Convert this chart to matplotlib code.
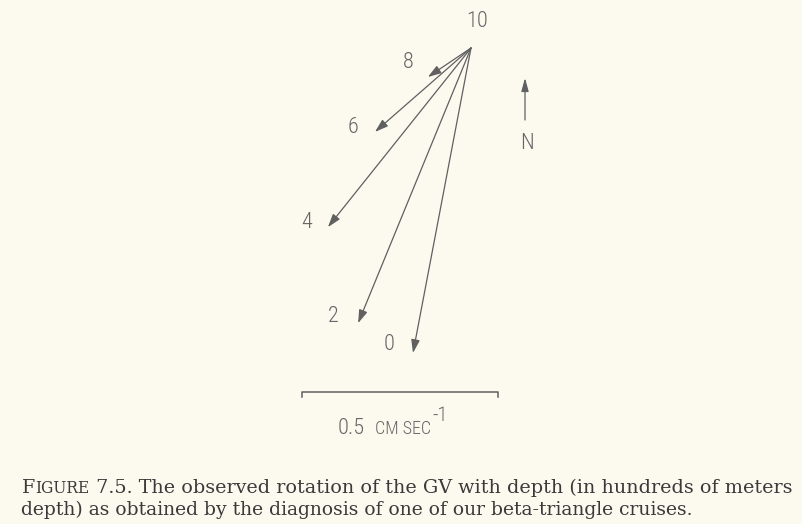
import matplotlib
matplotlib.use("Agg")
import matplotlib.pyplot as plt
from matplotlib import font_manager
from matplotlib.patches import FancyArrowPatch

# Geostrophic velocity at each depth (hundreds of metres), relative to 1000 m, in cm/s
depths = ["8", "6", "4", "2", "0"]
u_east = [-0.110, -0.245, -0.365, -0.288, -0.148]
v_north = [-0.074, -0.214, -0.457, -0.702, -0.778]
ref_label = "10"
scale_length = 0.5
scale_number = "0.5"
scale_units = "CM SEC"
scale_power = "-1"
caption_head = ("F", "IGURE")
caption_line1 = " 7.5. The observed rotation of the GV with depth (in hundreds of meters"
caption_line2 = "depth) as obtained by the diagnosis of one of our beta-triangle cruises."

BG = "#fcf9ef"
INK = "#606060"
TXT = "#666666"

W, H, DPI = 8.02, 5.24, 100
fig = plt.figure(figsize=(W, H), dpi=DPI, facecolor=BG)
ax = fig.add_axes([0, 0, 1, 1])
ax.set_facecolor(BG)
ppu = 392.0  # pixels per cm/s
ox, oy = 471.0, 48.0
ax.set_xlim(-ox / ppu, (W * DPI - ox) / ppu)
ax.set_ylim(-(H * DPI - oy) / ppu, oy / ppu)
ax.set_aspect("equal")
ax.axis("off")

# Narrow lettering for the diagram labels
installed = {f.name for f in font_manager.fontManager.ttflist}
narrow = None
for cand in ["Liberation Sans Narrow", "DejaVu Sans Condensed", "Roboto Condensed"]:
    if cand in installed:
        narrow = cand
        break
if narrow is None:
    label_font = dict(family="DejaVu Sans", color=TXT, fontsize=13)
    small_caps = 10.5
else:
    label_font = dict(family=narrow, color=TXT, fontsize=16, fontweight="light")
    small_caps = 13

# Velocity vectors from the common origin
offsets = [(-20, 15), (-22, 4), (-21, 5), (-25, 7), (-24, 8)]
for lab, u, v, off in zip(depths, u_east, v_north, offsets):
    arr = FancyArrowPatch((0, 0), (u, v), arrowstyle="-|>,head_length=8,head_width=2.6",
                          mutation_scale=1, color=INK, lw=0.9, shrinkA=0, shrinkB=0)
    ax.add_patch(arr)
    ax.annotate(lab, (u, v), xytext=off, textcoords="offset pixels",
                ha="center", va="center", **label_font)

ax.annotate(ref_label, (0, 0), xytext=(6, 27), textcoords="offset pixels",
            ha="center", va="center", **label_font)

# North arrow
nx = 54 / ppu
ax.add_patch(FancyArrowPatch((nx, -72 / ppu), (nx, -30 / ppu),
                             arrowstyle="-|>,head_length=8,head_width=2.2",
                             mutation_scale=1, color=INK, lw=0.9,
                             shrinkA=0, shrinkB=0))
ax.text(nx + 2 / ppu, -95 / ppu, "N", ha="center", va="center", **label_font)

# Scale bar
sx0, sy = -169 / ppu, -344 / ppu
tick = 5 / ppu
ax.plot([sx0, sx0, sx0 + scale_length, sx0 + scale_length],
        [sy - tick, sy, sy, sy - tick], color=INK, lw=1.1)


def px(x):
    return x / (W * DPI)


def py(y):
    return 1 - y / (H * DPI)


def after(t, gap=0):
    fig.canvas.draw()
    return px(t.get_window_extent().x1 + gap)


base = py(434)
t = fig.text(px(338), base, scale_number, va="baseline", ha="left", **label_font)
lf_small = dict(label_font, fontsize=small_caps)
t = fig.text(after(t, 10), base, scale_units, va="baseline", ha="left", **lf_small)
lf_sup = dict(label_font, fontsize=label_font["fontsize"] - 1)
fig.text(after(t, 1), py(421), scale_power, va="baseline", ha="left", **lf_sup)

# Caption
cap_font = dict(family="DejaVu Serif", color="#3a3a3a", va="baseline")
y1 = py(493)
y2 = py(515)
t = fig.text(px(22), y1, caption_head[0], fontsize=13.8, **cap_font)
t = fig.text(after(t), y1, caption_head[1], fontsize=11.2, **cap_font)
fig.text(after(t), y1, caption_line1, fontsize=13.8, **cap_font)
fig.text(px(21), y2, caption_line2, fontsize=13.5, **cap_font)

fig.savefig("out.png", dpi=DPI, facecolor=BG)
